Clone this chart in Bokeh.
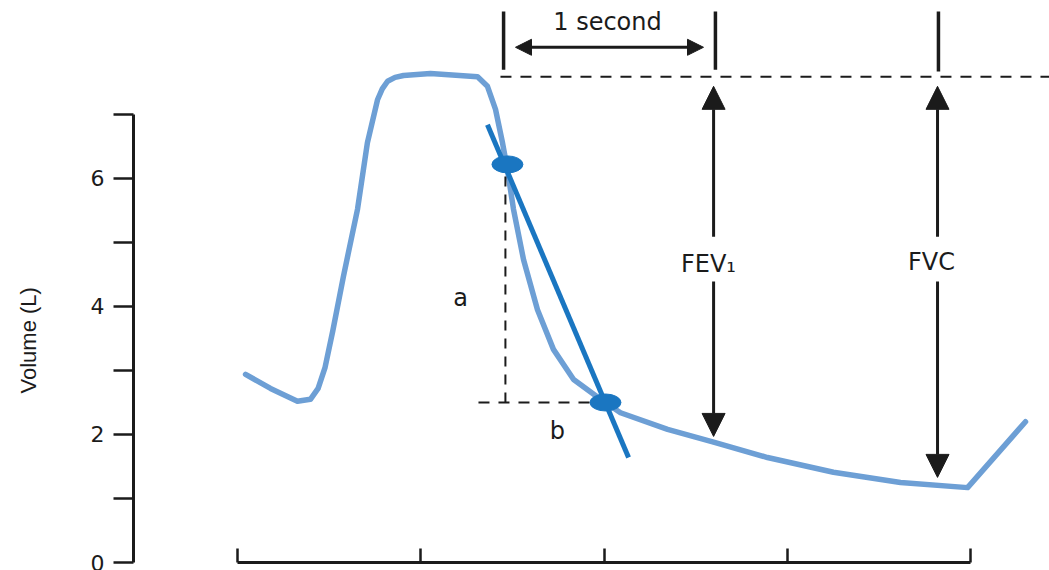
from bokeh.plotting import figure
from bokeh.models import Range1d, FixedTicker, Arrow, NormalHead, ColumnDataSource, Title, LinearAxis
from bokeh.embed import file_html
from bokeh.resources import INLINE
from bokeh.core.properties import value

# ---- data (time in axis-tick units, volume in litres) ----
time_s = [0.044, 0.18, 0.327, 0.398, 0.44, 0.478, 0.52, 0.578, 0.655, 0.709, 0.764,
          0.79, 0.819, 0.86, 0.906, 1.053, 1.31, 1.364, 1.408, 1.446, 1.473,
          1.506, 1.561, 1.637, 1.724, 1.834, 1.981, 2.09, 2.347, 2.598, 2.892,
          3.252, 3.618, 3.984, 4.30]
volume_l = [2.94, 2.72, 2.52, 2.55, 2.72, 3.05, 3.62, 4.47, 5.52, 6.56, 7.23,
            7.40, 7.52, 7.58, 7.61, 7.64, 7.59, 7.44, 7.08, 6.56, 6.14,
            5.52, 4.73, 3.95, 3.33, 2.86, 2.55, 2.34, 2.08, 1.88, 1.64,
            1.41, 1.25, 1.17, 2.20]

slope_x = [1.364, 2.134]
slope_y = [6.84, 1.64]
dot_x = [1.473, 2.008]
dot_y = [6.22, 2.50]

y_labelled_ticks = [0, 2, 4, 6]
y_minor_ticks = [1, 3, 5, 7]
x_ticks = [0, 1, 2, 3, 4]

fvc_level = 7.59
marker_x = [1.452, 2.608, 3.825]
marker_top = 8.61
marker_bottom = [7.70, 7.70, 7.67]
second_y = 8.05
second_start, second_end = 1.517, 2.543
fev1_x = 2.598
fvc_x = 3.820
up_from, up_to = 5.09, 7.44
fev1_down_from, fev1_down_to = 4.39, 1.97
fvc_down_from, fvc_down_to = 4.39, 1.33
a_vline_x, a_vline_top = 1.462, 6.03
b_hline_x0, b_hline_x1 = 1.315, 1.954

label_text = ["1 second", "FEV\u2081", "FVC", "a", "b"]
label_x = [2.019, 2.57, 3.787, 1.217, 1.746]
label_y = [8.45, 4.66, 4.69, 4.14, 2.05]
y_title = "Volume (L)"

LIGHT = "#6d9fd5"
DARK = "#1a76c1"
INK = "#1b1b1b"

p = figure(width=1049, height=570, output_backend="svg", toolbar_location=None,
           x_range=Range1d(-0.5675, 4.431), y_range=Range1d(0, 8.781),
           min_border_left=133, min_border_right=0, min_border_top=0,
           min_border_bottom=8)
p.outline_line_color = None
p.grid.visible = False
p.background_fill_color = "white"
p.border_fill_color = "white"

# axes
xa = p.xaxis[0]
xa.ticker = FixedTicker(ticks=[], minor_ticks=x_ticks)
xa.bounds = (0, 4)
xa.major_tick_line_color = None
xa.minor_tick_in = 14
xa.minor_tick_out = 0
xa.minor_tick_line_width = 2.5
xa.minor_tick_line_color = INK
xa.axis_line_width = 3
xa.axis_line_color = INK
xa.major_label_standoff = 0

ya = p.yaxis[0]
ya.ticker = FixedTicker(ticks=y_labelled_ticks, minor_ticks=y_minor_ticks)
ya.bounds = (0, 7)
ya.major_tick_in = 0
ya.major_tick_out = 20
ya.minor_tick_in = 0
ya.minor_tick_out = 20
ya.major_tick_line_width = 2.5
ya.minor_tick_line_width = 2.5
ya.major_tick_line_color = INK
ya.minor_tick_line_color = INK
ya.axis_line_width = 3
ya.axis_line_color = INK
ya.major_label_text_font = "DejaVu Sans"
ya.major_label_text_font_size = "22px"
ya.major_label_text_color = INK
ya.major_label_standoff = 9

# blank spacer so the axis title sits near the left edge
spacer = LinearAxis(ticker=FixedTicker(ticks=[8.6]), axis_line_color=None,
                    major_tick_line_color="white", major_tick_line_alpha=0.01,
                    minor_tick_line_color=None,
                    major_tick_out=42, major_tick_in=0, major_label_standoff=0,
                    major_label_text_font_size="8px", major_label_text_alpha=0.0)
p.add_layout(spacer, "left")
p.add_layout(Title(text=y_title, align="left", offset=169, text_font="Liberation Sans",
                   text_font_size="22px", text_font_style="normal", text_color=INK), "left")

# spirogram curve
p.line(time_s, volume_l, line_color=LIGHT, line_width=5.5, line_join="round", line_cap="round")
# slope line and points
p.line(slope_x, slope_y, line_color=DARK, line_width=5)
p.ellipse(dot_x, dot_y, width=31, height=17, width_units="screen", height_units="screen",
          fill_color=DARK, line_color=DARK)

# dashed guides
p.line([1.435, 4.5], [fvc_level, fvc_level], line_color=INK, line_width=2, line_dash="11 9")
p.line([a_vline_x, a_vline_x], [a_vline_top, dot_y[1]], line_color=INK, line_width=2, line_dash="10 8")
p.line([b_hline_x0, b_hline_x1], [dot_y[1], dot_y[1]], line_color=INK, line_width=2, line_dash="11 9")

# marker bars
for mx, mb in zip(marker_x, marker_bottom):
    p.line([mx, mx], [mb, marker_top], line_color=INK, line_width=3.5)

def head(sz):
    return NormalHead(size=sz, fill_color=INK, line_color=INK, line_width=1)

# 1 second double arrow
p.add_layout(Arrow(start=head(16), end=head(16), x_start=second_start, y_start=second_y,
                   x_end=second_end, y_end=second_y, line_color=INK, line_width=3))
# FEV1 / FVC arrows
for ax, dfrom, dto in [(fev1_x, fev1_down_from, fev1_down_to), (fvc_x, fvc_down_from, fvc_down_to)]:
    p.add_layout(Arrow(end=head(23), x_start=ax, y_start=up_from, x_end=ax, y_end=up_to,
                       line_color=INK, line_width=3))
    p.add_layout(Arrow(end=head(23), x_start=ax, y_start=dfrom, x_end=ax, y_end=dto,
                       line_color=INK, line_width=3))

src = ColumnDataSource(dict(x=label_x, y=label_y, t=label_text))
p.text(x="x", y="y", text="t", source=src, text_font=value("DejaVu Sans"),
       text_font_size="24px", text_align="center", text_baseline="middle", text_color=INK)

open("out.html", "w").write(file_html(p, INLINE))
